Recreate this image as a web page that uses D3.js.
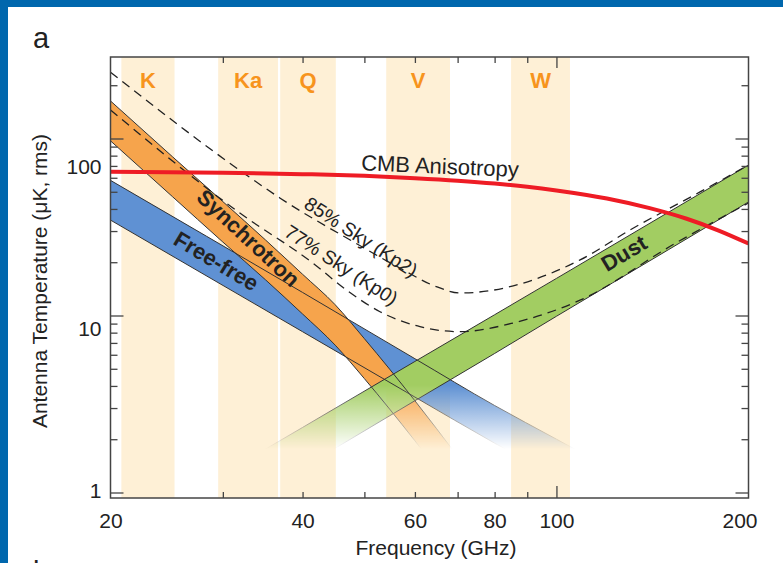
<!DOCTYPE html>
<html>
<head>
<meta charset="utf-8">
<script src="https://cdn.jsdelivr.net/npm/d3@7"></script>
<style>
  body { margin: 0; background: #fff; }
  svg { display: block; }
  text { font-family: "Liberation Sans", Arial, Helvetica, sans-serif; fill: #222; }
</style>
</head>
<body>
<div id="chart"></div>
<script>
// WMAP frequency bands (GHz)
const bandNames = ["K", "Ka", "Q", "V", "W"];
const bandLow = [20.8, 29.5, 36.9, 54.1, 84.9];
const bandHigh = [25.2, 36.6, 45.1, 68.1, 105.0];

// CMB anisotropy (antenna temperature, uK rms)
const cmbFreq = [20, 30, 40, 50, 60, 70, 80, 90, 100, 120, 140, 160, 180, 200];
const cmbTemp = [64.8, 64.1, 62.9, 61.5, 59.7, 57.8, 55.7, 53.4, 50.9, 45.8, 40.4, 35.2, 30.1, 25.5];

// Synchrotron band edges
const syncFreq = [20, 25, 30, 35, 40, 45, 50, 60, 70];
const syncHigh = [163, 79, 44, 26.7, 17.1, 11.5, 7.4, 3.3, 1.6];
const syncLow = [97, 47, 26, 15.9, 10.2, 6.8, 4.4, 1.96, 0.95];

// Free-free band edges
const ffFreq = [20, 40, 60, 80, 100, 120];
const ffHigh = [58, 13.5, 5.7, 3.1, 2.0, 1.4];
const ffLow = [34.6, 8.1, 3.46, 1.9, 1.22, 0.83];

// Dust band edges
const dustFreq = [30, 40, 60, 80, 100, 150, 200];
const dustHigh = [1.27, 2.33, 5.5, 10.1, 16.2, 38.4, 70.8];
const dustLow = [0.74, 1.38, 3.3, 6.1, 9.9, 23.6, 43.8];

// Total foreground, 85% sky (Kp2) and 77% sky (Kp0)
const kp2Freq = [20, 32.7, 36.9, 47.5, 56.9, 65, 70.6, 108.9, 130.4, 167.9, 200];
const kp2Temp = [237, 62, 46, 26.7, 18.5, 14.5, 13.4, 20.6, 30.4, 49.9, 70.8];
const kp0Freq = [20, 31.9, 41.5, 46.9, 52.9, 61.1, 70.6, 85.5, 108.9, 153.9, 200];
const kp0Temp = [145, 37.9, 19.8, 13.9, 10.5, 8.65, 8.1, 9.07, 12.2, 25.7, 43.2];

// axis ticks
const xLabels = [20, 40, 60, 80, 100, 200];
const xMinor = [30, 40, 50, 60, 70, 80, 90];
const yLabels = [1, 10, 100];
const yMinor = [2, 3, 4, 5, 6, 7, 8, 9, 20, 30, 40, 50, 60, 70, 80, 90, 200];

const W = 783, H = 563;
const plot = {left: 110.5, right: 748.5, top: 57, bottom: 498};

const svg = d3.select("#chart").append("svg")
    .attr("width", W)
    .attr("height", H);

// page frame (blue strip top and left)
svg.append("rect").attr("x", 0).attr("y", 0).attr("width", W).attr("height", 7).attr("fill", "#0067ad");
svg.append("rect").attr("x", 0).attr("y", 0).attr("width", 8).attr("height", H).attr("fill", "#0067ad");

const x = d3.scaleLog().domain([20, 200]).range([plot.left, plot.right]);
const y = d3.scaleLog().domain([1, 100]).range([492.5, 138.5]);

const defs = svg.append("defs");
defs.append("clipPath").attr("id", "plotClip")
  .append("rect")
    .attr("x", plot.left).attr("y", plot.top)
    .attr("width", plot.right - plot.left).attr("height", plot.bottom - plot.top);

// fade of the foreground bands towards low temperatures
const fadeGrad = defs.append("linearGradient")
    .attr("id", "fadeGrad")
    .attr("gradientUnits", "userSpaceOnUse")
    .attr("x1", 0).attr("y1", 385).attr("x2", 0).attr("y2", 449);
fadeGrad.append("stop").attr("offset", 0).attr("stop-color", "#fff");
fadeGrad.append("stop").attr("offset", 1).attr("stop-color", "#000");
defs.append("mask").attr("id", "fade")
    .attr("maskUnits", "userSpaceOnUse")
    .attr("x", 0).attr("y", 0).attr("width", W).attr("height", H)
  .append("rect")
    .attr("x", 0).attr("y", 0).attr("width", W).attr("height", H)
    .attr("fill", "url(#fadeGrad)");

const g = svg.append("g").attr("clip-path", "url(#plotClip)");

// frequency bands
g.selectAll(".band")
  .data(bandNames)
  .enter().append("rect")
    .attr("x", (d, i) => x(bandLow[i]))
    .attr("y", plot.top)
    .attr("width", (d, i) => x(bandHigh[i]) - x(bandLow[i]))
    .attr("height", plot.bottom - plot.top)
    .attr("fill", "#fef0d6");

g.selectAll(".bandLabel")
  .data(bandNames)
  .enter().append("text")
    .attr("x", (d, i) => (x(bandLow[i]) + x(bandHigh[i])) / 2)
    .attr("y", 88)
    .attr("text-anchor", "middle")
    .style("font-size", "22px")
    .style("font-weight", "bold")
    .style("fill", "#f7941d")
    .text(d => d);

// foreground bands
const fg = g.append("g").attr("mask", "url(#fade)");

const area = d3.area()
    .x(d => x(d[0]))
    .y0(d => y(d[1]))
    .y1(d => y(d[2]))
    .curve(d3.curveMonotoneX);

const line = d3.line()
    .x(d => x(d[0]))
    .y(d => y(d[1]))
    .curve(d3.curveMonotoneX);

const comps = [
  {freq: ffFreq, lo: ffLow, hi: ffHigh, color: "#5f91d3"},
  {freq: syncFreq, lo: syncLow, hi: syncHigh, color: "#f6a44c"},
  {freq: dustFreq, lo: dustLow, hi: dustHigh, color: "#a2cd62"}
];

comps.forEach(c => {
  fg.append("path")
    .datum(c.freq.map((f, i) => [f, c.lo[i], c.hi[i]]))
    .attr("fill", c.color)
    .attr("d", area);
});

comps.forEach(c => {
  [c.lo, c.hi].forEach(vals => {
    fg.append("path")
      .datum(c.freq.map((f, i) => [f, vals[i]]))
      .attr("fill", "none")
      .attr("stroke", "#333")
      .attr("stroke-width", 1)
      .attr("d", line);
  });
});

// total foreground, dashed
[[kp2Freq, kp2Temp], [kp0Freq, kp0Temp]].forEach(s => {
  g.append("path")
    .datum(s[0].map((f, i) => [f, s[1][i]]))
    .attr("fill", "none")
    .attr("stroke", "#222")
    .attr("stroke-width", 1.3)
    .attr("stroke-dasharray", "9,6")
    .attr("d", line);
});

// CMB anisotropy
g.append("path")
  .datum(cmbFreq.map((f, i) => [f, cmbTemp[i]]))
  .attr("fill", "none")
  .attr("stroke", "#ee1c25")
  .attr("stroke-width", 4)
  .attr("d", line);

// curve labels, placed at (frequency, temperature)
function label(txt, f, v, angle, size, bold) {
  svg.append("text")
    .attr("transform", `translate(${x(f)},${y(v)}) rotate(${angle})`)
    .attr("text-anchor", "middle")
    .attr("dy", "0.35em")
    .style("font-size", size + "px")
    .style("font-weight", bold ? "bold" : "normal")
    .text(txt);
}
label("CMB Anisotropy", 65.7, 70, 2.5, 22, false);
label("Synchrotron", 32.9, 27.4, 43, 22, true);
label("Free-free", 29.3, 20.3, 31, 22, true);
label("Dust", 127.6, 22.5, -31, 22, true);
label("85% Sky (Kp2)", 49.4, 27.8, 33, 19.5, false);
label("77% Sky (Kp0)", 46.0, 19.3, 33, 19.5, false);

// frame
svg.append("rect")
    .attr("x", plot.left).attr("y", plot.top)
    .attr("width", plot.right - plot.left).attr("height", plot.bottom - plot.top)
    .attr("fill", "none")
    .attr("stroke", "#444")
    .attr("stroke-width", 1.5);

// inward ticks on all four sides
function ticks(axis, tr) {
  const a = svg.append("g").attr("transform", tr).call(axis);
  a.select(".domain").remove();
  a.selectAll("line").attr("stroke", "#444").attr("stroke-width", 1.3);
  return a;
}
ticks(d3.axisBottom(x).tickValues(xMinor).tickSize(-6).tickFormat(""), `translate(0,${plot.bottom})`);
ticks(d3.axisBottom(x).tickValues([100]).tickSize(-12).tickFormat(""), `translate(0,${plot.bottom})`);
ticks(d3.axisTop(x).tickValues(xMinor).tickSize(-6).tickFormat(""), `translate(0,${plot.top})`);
ticks(d3.axisTop(x).tickValues([100]).tickSize(-11).tickFormat(""), `translate(0,${plot.top})`);
ticks(d3.axisLeft(y).tickValues(yMinor).tickSize(-7).tickFormat(""), `translate(${plot.left},0)`);
ticks(d3.axisLeft(y).tickValues(yLabels).tickSize(-13).tickFormat(""), `translate(${plot.left},0)`);
ticks(d3.axisRight(y).tickValues(yMinor).tickSize(-7).tickFormat(""), `translate(${plot.right},0)`);
ticks(d3.axisRight(y).tickValues(yLabels).tickSize(-13).tickFormat(""), `translate(${plot.right},0)`);

// tick labels
const xLab = svg.append("g")
    .attr("transform", `translate(0,${plot.bottom})`)
    .call(d3.axisBottom(x).tickValues(xLabels).tickSize(0).tickPadding(15).tickFormat(d3.format("d")));
xLab.select(".domain").remove();
xLab.selectAll("text").style("font-size", "21px").style("fill", "#222").attr("font-family", null);
xLab.selectAll("text").filter(d => d === 200).attr("dx", -9);

const yNudge = {1: -2, 10: 13, 100: 28};
const yLab = svg.append("g")
    .attr("transform", `translate(${plot.left},0)`)
    .call(d3.axisLeft(y).tickValues(yLabels).tickSize(0).tickPadding(9).tickFormat(d3.format("d")));
yLab.select(".domain").remove();
yLab.selectAll("text").style("font-size", "21px").style("fill", "#222").attr("font-family", null)
    .attr("y", d => yNudge[d]);

// axis titles
svg.append("text")
    .attr("x", 436)
    .attr("y", 555)
    .attr("text-anchor", "middle")
    .style("font-size", "21px")
    .text("Frequency (GHz)");

svg.append("text")
    .attr("transform", "rotate(-90)")
    .attr("x", -281)
    .attr("y", 47)
    .attr("text-anchor", "middle")
    .style("font-size", "21px")
    .text("Antenna Temperature (\u03bcK, rms)");

// panel letters (the next panel's letter only peeks in at the bottom)
svg.append("text").attr("x", 33).attr("y", 48).style("font-size", "29px").text("a");
svg.append("text").attr("x", 33).attr("y", 582).style("font-size", "29px").text("b");
</script>
</body>
</html>
